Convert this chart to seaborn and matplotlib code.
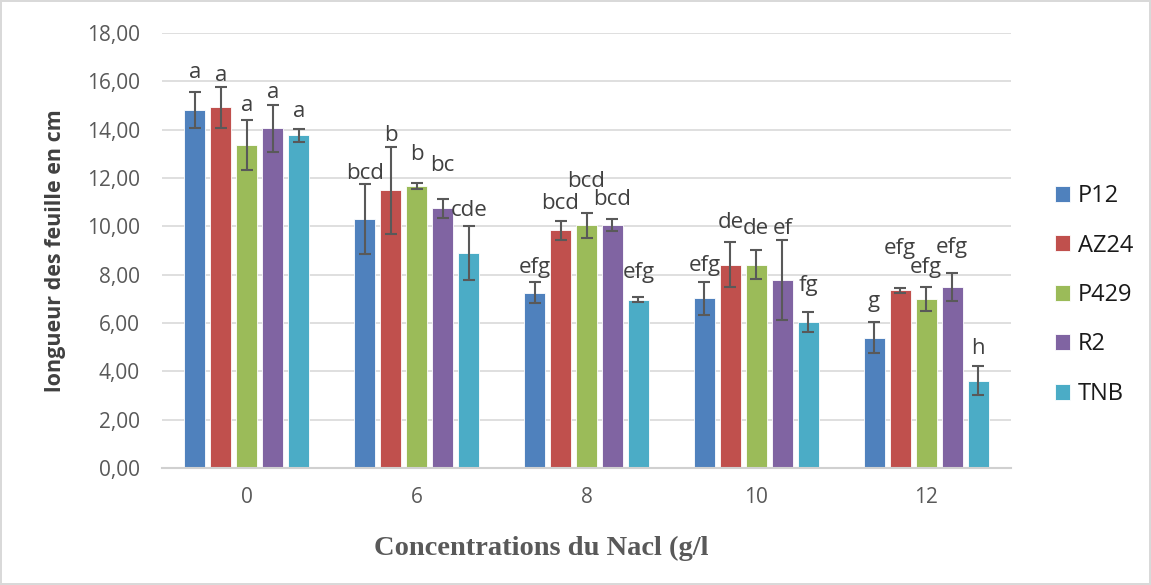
import matplotlib
matplotlib.use("Agg")
import matplotlib.pyplot as plt
import seaborn as sns
import pandas as pd
import numpy as np

# ---- data ----
concentrations = ["0", "6", "8", "10", "12"]
varieties = ["P12", "AZ24", "P429", "R2", "TNB"]

p12 = [14.80, 10.30, 7.25, 7.02, 5.40]
az24 = [14.92, 11.50, 9.83, 8.42, 7.36]
p429 = [13.36, 11.68, 10.04, 8.42, 6.99]
r2 = [14.05, 10.74, 10.07, 7.77, 7.49]
tnb = [13.76, 8.88, 6.97, 6.03, 3.62]

p12_err = [0.74, 1.45, 0.44, 0.67, 0.65]
az24_err = [0.84, 1.80, 0.40, 0.92, 0.10]
p429_err = [1.02, 0.12, 0.52, 0.61, 0.48]
r2_err = [0.99, 0.38, 0.25, 1.66, 0.56]
tnb_err = [0.27, 1.12, 0.10, 0.42, 0.59]

p12_letters = ["a", "bcd", "efg", "efg", "g"]
az24_letters = ["a", "b", "bcd", "de", "efg"]
p429_letters = ["a", "b", "bcd", "de", "efg"]
r2_letters = ["a", "bc", "bcd", "ef", "efg"]
tnb_letters = ["a", "cde", "efg", "fg", "h"]

yticks = [0, 2, 4, 6, 8, 10, 12, 14, 16, 18]
ytick_labels = ["0,00", "2,00", "4,00", "6,00", "8,00", "10,00", "12,00", "14,00", "16,00", "18,00"]

# ---- layout of the letter labels (pixel gap above error-bar top) ----
p12_lab_gap = [20, 11, 15, 17, 20]
az24_lab_gap = [12, 11, 17, 20, 39]
p429_lab_gap = [15, 28, 31, 21, 20]
r2_lab_gap = [12, 34, 19, 12, 26]
tnb_lab_gap = [17, 16, 25, 27, 18]

colors = ["#4F81BD", "#C0504D", "#9BBB59", "#8064A2", "#4BACC6"]

values = [p12, az24, p429, r2, tnb]
errors = [p12_err, az24_err, p429_err, r2_err, tnb_err]
letters = [p12_letters, az24_letters, p429_letters, r2_letters, tnb_letters]
gaps = [p12_lab_gap, az24_lab_gap, p429_lab_gap, r2_lab_gap, tnb_lab_gap]

rows = []
for v, vals in zip(varieties, values):
    for c, val in zip(concentrations, vals):
        rows.append({"conc": c, "var": v, "val": val})
df = pd.DataFrame(rows)

# ---- figure ----
sns.set_theme(style="white")
plt.rcParams["font.family"] = ["Open Sans", "DejaVu Sans"]

DPI = 100
fig = plt.figure(figsize=(11.51, 5.85), dpi=DPI)
ax = fig.add_axes([162 / 1151, 1 - 468 / 585, (1011 - 162) / 1151, (468 - 33) / 585])

sns.barplot(data=df, x="conc", y="val", hue="var", order=concentrations,
            hue_order=varieties, palette=colors, width=0.765, gap=0.19,
            errorbar=None, ax=ax, edgecolor="white", linewidth=0.6, saturation=1)

grey = "#595959"
px2pt = 72 / DPI
for cont, errs, labs, gp in zip(ax.containers, errors, letters, gaps):
    xs = [p.get_x() + p.get_width() / 2 for p in cont.patches]
    hs = [p.get_height() for p in cont.patches]
    ax.errorbar(xs, hs, yerr=errs, fmt="none", ecolor=grey, elinewidth=1.5,
                capsize=4, capthick=1.5, zorder=5)
    for x, h, e, t, g in zip(xs, hs, errs, labs, gp):
        ax.annotate(t, (x, h + e), xytext=(0, g * px2pt), textcoords="offset points",
                    ha="center", va="center", fontsize=16, color="#404040")

ax.set_ylim(0, 18)
ax.set_xlim(-0.5, 4.5)
ax.set_yticks(yticks)
ax.set_yticklabels(ytick_labels)
ax.yaxis.grid(True, color="#D9D9D9", linewidth=1.2)
ax.set_axisbelow(True)
for s in ["left", "right", "top"]:
    ax.spines[s].set_visible(False)
ax.spines["bottom"].set_color("#D0D0D0")
ax.spines["bottom"].set_linewidth(1.5)
ax.tick_params(axis="both", length=0, labelsize=15, colors=grey)
ax.tick_params(axis="y", pad=16)
ax.tick_params(axis="x", pad=14)
ax.set_xlabel("")
ax.set_ylabel("")

fig.text(56 / 1151, 1 - 251 / 585, "longueur des feuille en cm", rotation=90,
         ha="center", va="center", fontsize=15.5, fontweight="bold", color="#404040")
fig.text(541 / 1151, 1 - 548 / 585, "Concentrations du Nacl (g/l",
         ha="center", va="center", fontsize=20.5, fontweight="bold", color=grey,
         family=["Liberation Serif", "DejaVu Serif"])

handles, labels_ = ax.get_legend_handles_labels()
ax.legend(handles, labels_, loc="upper left",
          bbox_to_anchor=(1055 / 1151, 1 - 184 / 585), bbox_transform=fig.transFigure,
          frameon=False, fontsize=17, labelspacing=1.08, handlelength=0.64,
          handleheight=0.64, handletextpad=0.34, borderpad=0, borderaxespad=0,
          labelcolor="#1a1a1a")

fig.patch.set_edgecolor("#D9D9D9")
fig.patch.set_linewidth(1.5)
fig.savefig("out.png", dpi=DPI, facecolor="white", edgecolor=fig.get_edgecolor())
